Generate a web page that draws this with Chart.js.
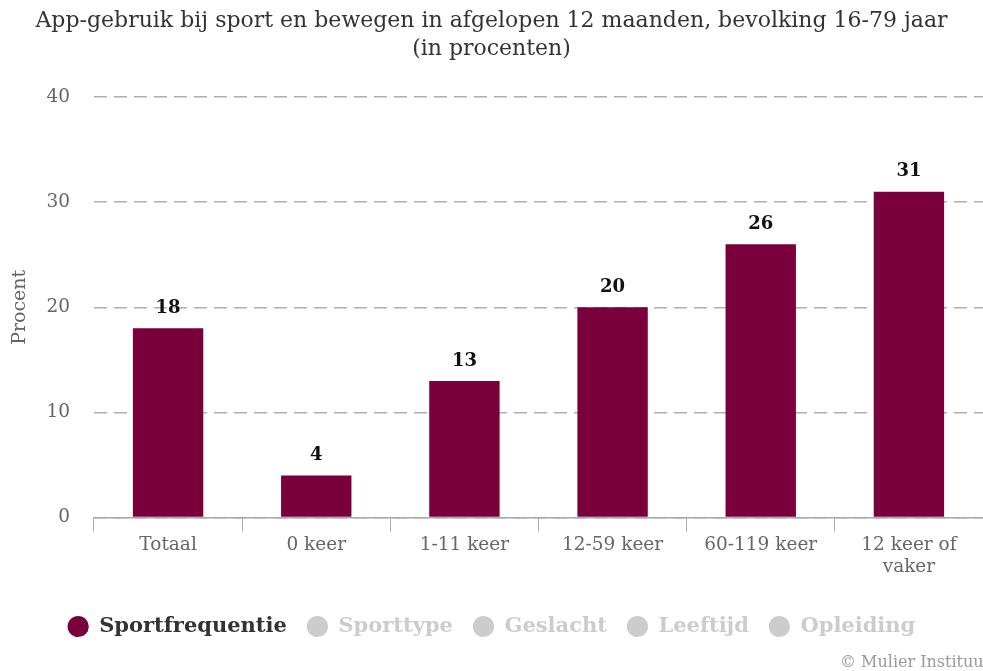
<!DOCTYPE html>
<html><head><meta charset="utf-8">
<script src="https://cdn.jsdelivr.net/npm/chart.js@4/dist/chart.umd.min.js"></script>
<style>html,body{margin:0;padding:0;background:#fff}#wrap{width:983px;height:671px;position:relative}</style>
</head><body><div id="wrap"><canvas id="c"></canvas></div>
<script>
const categories = ['Totaal', '0 keer', '1-11 keer', '12-59 keer', '60-119 keer', ['12 keer of', 'vaker']];
const values = [18, 4, 13, 20, 26, 31];
const legendItems = ['Sportfrequentie', 'Sporttype', 'Geslacht', 'Leeftijd', 'Opleiding'];
const yTicks = [0, 10, 20, 30, 40];
const titleLines = ['App-gebruik bij sport en bewegen in afgelopen 12 maanden, bevolking 16-79 jaar', '(in procenten)'];
const credit = '© Mulier Instituut';

const BAR = '#7a003c';
const FONT = "'DejaVu Serif', serif";

const valueLabels = {
  id: 'valueLabels',
  afterDatasetsDraw(chart) {
    const ctx = chart.ctx;
    const meta = chart.getDatasetMeta(0);
    ctx.save();
    ctx.font = "bold 18px " + FONT;
    ctx.fillStyle = '#111';
    ctx.textAlign = 'center';
    ctx.textBaseline = 'bottom';
    meta.data.forEach((el, i) => {
      ctx.fillText(String(values[i]), el.x, el.y - 11);
    });
    ctx.restore();
  }
};
const creditPlugin = {
  id: 'credit',
  afterDraw(chart) {
    const ctx = chart.ctx;
    ctx.save();
    ctx.font = "16px " + FONT;
    ctx.fillStyle = '#999';
    ctx.textAlign = 'left';
    ctx.textBaseline = 'bottom';
    ctx.fillText(credit, 840, 671);
    ctx.restore();
  }
};

new Chart(document.getElementById('c'), {
  type: 'bar',
  data: {
    labels: categories,
    datasets: [{ label: legendItems[0], data: values, backgroundColor: BAR, barPercentage: 0.95, categoryPercentage: 0.5 }]
  },
  options: {
    responsive: true,
    maintainAspectRatio: false,
    animation: false,
    layout: { padding: { left: 0, right: 0, top: 8, bottom: 24 } },
    plugins: {
      title: {
        display: true, text: titleLines, color: '#333',
        font: { family: FONT, size: 22, weight: 'normal', lineHeight: 1.25 },
        padding: { top: 0, bottom: 34 }
      },
      legend: {
        position: 'bottom',
        onClick: null,
        labels: {
          usePointStyle: true, pointStyle: 'circle', boxWidth: 23, boxHeight: 15, padding: 20,
          font: { family: FONT, size: 21, weight: 'bold' },
          generateLabels() {
            return legendItems.map((t, i) => ({
              text: t,
              fillStyle: i === 0 ? BAR : '#cccccc',
              strokeStyle: i === 0 ? BAR : '#cccccc',
              fontColor: i === 0 ? '#333' : '#cccccc',
              lineWidth: 0,
              pointStyle: 'circle',
              hidden: false,
              datasetIndex: 0
            }));
          }
        }
      },
      tooltip: { enabled: false }
    },
    scales: {
      x: {
        offset: true,
        afterFit(scale) { scale.height += 16; },
        grid: { display: true, drawOnChartArea: false, offset: true, tickLength: 14, color: '#aaa' },
        border: { display: true, color: '#aaa', width: 1.5 },
        ticks: { color: '#666', font: { family: FONT, size: 18.5 }, maxRotation: 0, autoSkip: false, padding: 2 }
      },
      y: {
        min: 0, max: 40,
        afterBuildTicks(axis) { axis.ticks = yTicks.map(v => ({ value: v })); },
        afterFit(scale) { scale.width = 94; },
        title: { display: true, text: 'Procent', color: '#666', font: { family: FONT, size: 19 }, padding: { top: 9, bottom: 0 } },
        grid: { color: '#b0b0b0', lineWidth: 1.5, drawTicks: false },
        border: { display: false, dash: [13, 7] },
        ticks: { color: '#666', font: { family: FONT, size: 18.5 }, padding: 24 }
      }
    }
  },
  plugins: [valueLabels, creditPlugin]
});
</script></body></html>
